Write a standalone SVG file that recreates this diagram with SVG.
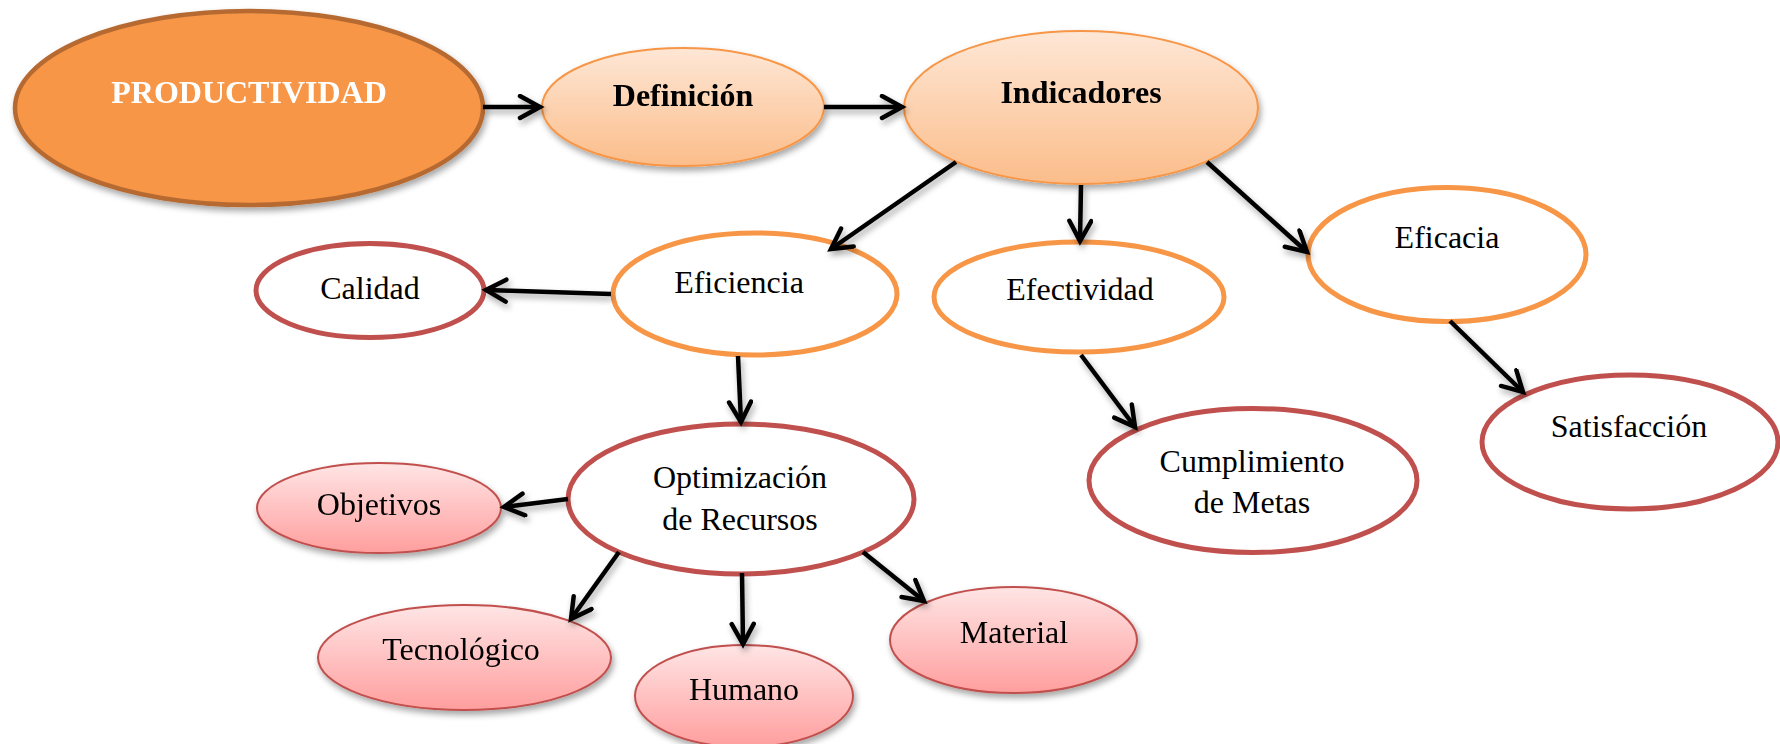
<svg xmlns="http://www.w3.org/2000/svg" width="1780" height="744" viewBox="0 0 1780 744">
<defs>
<linearGradient id="gOrange" x1="0" y1="0" x2="0" y2="1">
<stop offset="0" stop-color="#FEE7D6"/>
<stop offset="1" stop-color="#FBBD8A"/>
</linearGradient>
<linearGradient id="gPink" x1="0" y1="0" x2="0" y2="1">
<stop offset="0" stop-color="#FFE5E5"/>
<stop offset="1" stop-color="#FF9E9E"/>
</linearGradient>
<filter id="sh" x="-20%" y="-20%" width="140%" height="150%">
<feDropShadow dx="2" dy="4" stdDeviation="3" flood-color="#000" flood-opacity="0.35"/>
</filter>
<marker id="arr" markerUnits="userSpaceOnUse" markerWidth="30" markerHeight="30" refX="24" refY="13" orient="auto">
<path d="M4,2 L24,13 L4,24" fill="none" stroke="#000" stroke-width="4.5" stroke-linecap="round" stroke-linejoin="miter"/>
</marker>
</defs>
<style>
text{font-family:"Liberation Serif","Times New Roman",serif;font-size:32px;fill:#000;text-anchor:middle}
.b{font-weight:bold}
.w{fill:#fff}
.main{fill:#F79646;stroke:#B66B31;stroke-width:4.5}
.lo{fill:url(#gOrange);stroke:#F79646;stroke-width:2}
.wo{fill:#fff;stroke:#F79646;stroke-width:5}
.wr{fill:#fff;stroke:#C0504D;stroke-width:5}
.pk{fill:url(#gPink);stroke:#C0504D;stroke-width:2}
.c line{stroke:#000;stroke-width:4.5;marker-end:url(#arr)}
</style>

<g id="productividad" filter="url(#sh)">
<ellipse class="main" cx="249" cy="108" rx="234" ry="97"/>
<text class="b w" x="249" y="103">PRODUCTIVIDAD</text>
</g>

<g id="definicion" filter="url(#sh)">
<ellipse class="lo" cx="683" cy="107" rx="141" ry="59"/>
<text class="b" x="683" y="106">Definición</text>
</g>

<g id="indicadores" filter="url(#sh)">
<ellipse class="lo" cx="1081" cy="107.5" rx="177" ry="76.5"/>
<text class="b" x="1081" y="103">Indicadores</text>
</g>

<g id="eficiencia">
<ellipse class="wo" cx="755" cy="294" rx="142" ry="61"/>
<text x="739" y="293">Eficiencia</text>
</g>

<g id="efectividad">
<ellipse class="wo" cx="1079" cy="297" rx="145" ry="55"/>
<text x="1080" y="300">Efectividad</text>
</g>

<g id="eficacia">
<ellipse class="wo" cx="1447" cy="254.5" rx="139" ry="67"/>
<text x="1447" y="248">Eficacia</text>
</g>

<g id="calidad">
<ellipse class="wr" cx="370" cy="290.5" rx="114" ry="47"/>
<text x="370" y="299">Calidad</text>
</g>

<g id="optimizacion">
<ellipse class="wr" cx="741" cy="499" rx="173" ry="75"/>
<text x="740" y="488">Optimización</text>
<text x="740" y="530">de Recursos</text>
</g>

<g id="cumplimiento">
<ellipse class="wr" cx="1253" cy="480.5" rx="164" ry="72"/>
<text x="1252" y="472">Cumplimiento</text>
<text x="1252" y="513">de Metas</text>
</g>

<g id="satisfaccion">
<ellipse class="wr" cx="1630" cy="442" rx="148" ry="67"/>
<text x="1629" y="437">Satisfacción</text>
</g>

<g id="objetivos" filter="url(#sh)">
<ellipse class="pk" cx="379" cy="508" rx="122" ry="45"/>
<text x="379" y="515">Objetivos</text>
</g>

<g id="tecnologico" filter="url(#sh)">
<ellipse class="pk" cx="464.5" cy="657.5" rx="146.5" ry="52.5"/>
<text x="461" y="660">Tecnológico</text>
</g>

<g id="humano" filter="url(#sh)">
<ellipse class="pk" cx="744" cy="696" rx="109" ry="51"/>
<text x="744" y="700">Humano</text>
</g>

<g id="material" filter="url(#sh)">
<ellipse class="pk" cx="1013.5" cy="640" rx="123.5" ry="53"/>
<text x="1014" y="643">Material</text>
</g>

<g id="connectors" class="c" filter="url(#sh)">
<line x1="483" y1="107" x2="540" y2="107"/>
<line x1="824" y1="107" x2="902" y2="107"/>
<line x1="956" y1="162" x2="831" y2="249"/>
<line x1="1081" y1="185" x2="1080" y2="241"/>
<line x1="1207" y1="162" x2="1307" y2="252"/>
<line x1="611" y1="294" x2="486" y2="290"/>
<line x1="738" y1="356" x2="741" y2="422"/>
<line x1="1081" y1="355" x2="1135" y2="427"/>
<line x1="1450" y1="321" x2="1523" y2="392"/>
<line x1="568" y1="499" x2="504" y2="507"/>
<line x1="619" y1="552" x2="571" y2="619"/>
<line x1="742" y1="573" x2="743" y2="644"/>
<line x1="863" y1="552" x2="924" y2="601"/>
</g>
</svg>
